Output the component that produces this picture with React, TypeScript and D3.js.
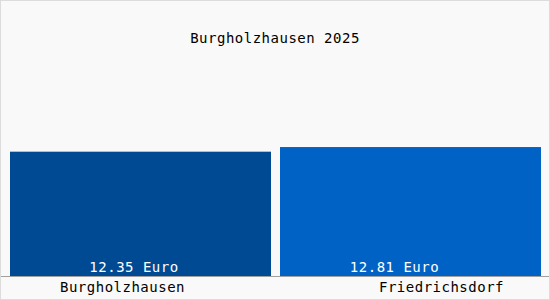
import React from "react";
import * as d3 from "d3";

const categories = ["Burgholzhausen", "Friedrichsdorf"];
const values = [12.35, 12.81];
const valueLabels = ["12.35 Euro", "12.81 Euro"];
const title = "Burgholzhausen 2025";
const barColors = ["#004a94", "#0062c4"];

const W = 550;
const H = 300;

export default function App() {
  const x = d3.scaleBand<string>().domain(categories).range([10, 541]).paddingInner(1 / 30).paddingOuter(0);
  const y = d3.scaleLinear().domain([0, 15]).range([276, 125]);
  const valueX = [134, 394.5];
  const catX = [122.5, 441.5];
  const font = "'DejaVu Sans Mono', monospace";
  return (
    <svg width={W} height={H} style={{ position: "fixed", left: 0, top: 0 }} xmlns="http://www.w3.org/2000/svg">
      <rect x={0.5} y={0.5} width={W - 1} height={H - 1} fill="#f9f9f9" stroke="#dcdcdc" />
      <text x={275} y={43} textAnchor="middle" fontFamily={font} fontSize={14} letterSpacing={0.5} fill="#000">
        {title}
      </text>
      {categories.map((c, i) => (
        <rect key={c} x={x(c)} y={y(values[i])} width={x.bandwidth()} height={y(0) - y(values[i])} fill={barColors[i]} />
      ))}
      <line x1={1} x2={W - 1} y1={276.5} y2={276.5} stroke="#a0a0a0" />
      {categories.map((c, i) => (
        <text key={"v" + c} x={valueX[i]} y={272} textAnchor="middle" fontFamily={font} fontSize={14} letterSpacing={0.5} fill="#fff">
          {valueLabels[i]}
        </text>
      ))}
      {categories.map((c, i) => (
        <text key={"c" + c} x={catX[i]} y={292} textAnchor="middle" fontFamily={font} fontSize={14} letterSpacing={0.5} fill="#000">
          {c}
        </text>
      ))}
    </svg>
  );
}
